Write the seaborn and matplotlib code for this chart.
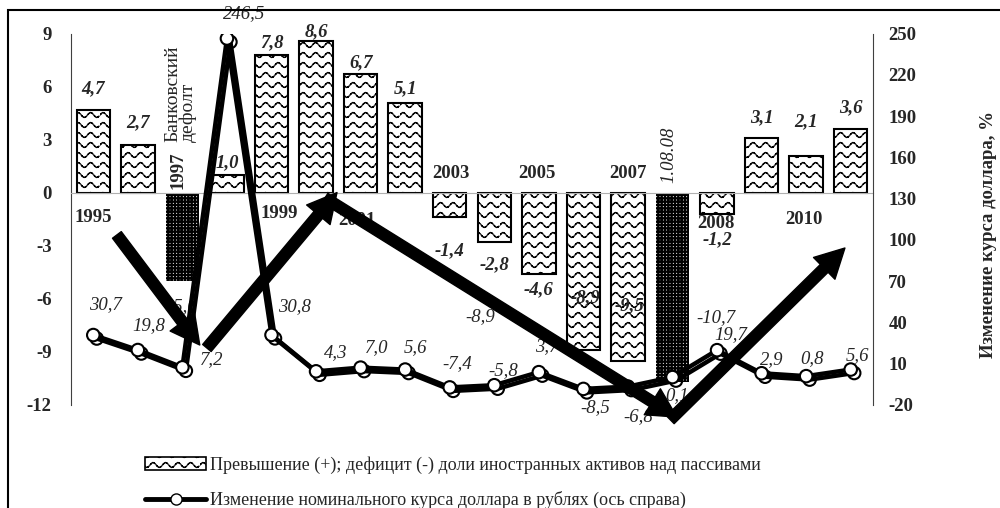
import numpy as np
import matplotlib
matplotlib.use('Agg')
import matplotlib.pyplot as plt
import matplotlib.hatch as mhatch
import matplotlib.patheffects as pe
from matplotlib.path import Path
from matplotlib.patches import Patch, Rectangle
from matplotlib.lines import Line2D
import seaborn as sns

# data
periods = ['1995', '1996', '1997', '1998', '1999', '2000', '2001', '2002', '2003',
           '2004', '2005', '2006', '2007', '1.08.08', '2008', '2009', '2010', '2011']
asset_gap = [4.7, 2.7, -5.0, 1.0, 7.8, 8.6, 6.7, 5.1, -1.4,
             -2.8, -4.6, -8.9, -9.5, -10.7, -1.2, 3.1, 2.1, 3.6]
usd_change = [30.7, 19.8, 7.2, 246.5, 30.8, 4.3, 7.0, 5.6, -7.4,
              -5.8, 3.7, -8.5, -6.8, 0.1, 19.7, 2.9, 0.8, 5.6]
crisis_periods = ['1997', '1.08.08']
left_ticks = [9, 6, 3, 0, -3, -6, -9, -12]
right_ticks = [250, 220, 190, 160, 130, 100, 70, 40, 10, -20]

legend_labels = ['Превышение (+); дефицит (-) доли иностранных активов над пассивами',
                 'Изменение номинального курса доллара в рублях (ось справа)']
right_label = 'Изменение курса доллара, %'

# label placement (pixel offsets from the bar end / line point)
bar_off = [(0, 21), (0, 22), (0, -26), (0, 12), (0, 12), (0, 9), (0, 12), (0, 14), (0, -33),
           (0, -23), (0, -16), (2, 52), (2, 55), (43, 64), (0, -26), (0, 20), (0, 34), (0, 21)]
line_off = [(12, 30), (11, 24), (29, 8), (17, 25), (23, 28), (20, 19), (16, 20), (10, 22), (7, 24),
            (9, 15), (8, 26), (12, -19), (10, -30), (5, -18), (14, 16), (10, 14), (6, 18), (7, 14)]
year_marks = [('1995', 0.0, -1.43, 0), ('1997', 1.9, 1.28, 90), ('1999', 4.17, -1.15, 0),
              ('2001', 5.92, -1.55, 0), ('2003', 8.03, 1.11, 0), ('2005', 9.96, 1.11, 0),
              ('2007', 12.0, 1.11, 0), ('2008', 13.98, -1.73, 0), ('2010', 15.95, -1.49, 0)]
arrows = [((0.53, -2.39), (2.39, -8.62)), ((2.55, -8.79), (5.47, 0.01)),
          ((5.20, -0.3), (13.1, -12.7)), ((12.95, -12.85), (16.87, -3.13))]

FS = 13.5


# wavy dotted hatch for '-' ; '+' keeps the plain grid
class WaveHatch(mhatch.HatchPatternBase):
    def __init__(self, hatch, density):
        self.rows = hatch.count('-') * 5
        self.t = np.linspace(0, 1, 8 * 12 + 1)
        self.idx = np.nonzero(np.arange(len(self.t) - 1) % 3 != 2)[0]
        self.num_vertices = self.rows * len(self.idx) * 2

    def set_vertices_and_codes(self, vertices, codes):
        if not self.rows:
            return
        amp = 0.24 / self.rows
        x0, x1 = self.t[self.idx], self.t[self.idx + 1]
        w0, w1 = amp * np.sin(16 * np.pi * x0), amp * np.sin(16 * np.pi * x1)
        n = len(self.idx)
        for r in range(self.rows):
            y = (r + 0.5) / self.rows
            blk = vertices[r * 2 * n:(r + 1) * 2 * n]
            blk[0::2, 0], blk[0::2, 1] = x0, y + w0
            blk[1::2, 0], blk[1::2, 1] = x1, y + w1
        codes[0::2] = Path.MOVETO
        codes[1::2] = Path.LINETO


class GridHorizontal(mhatch.HorizontalHatch):
    def __init__(self, hatch, density):
        self.num_lines = int(hatch.count('+') * density)
        self.num_vertices = self.num_lines * 2


mhatch._hatch_types[0] = GridHorizontal
mhatch._hatch_types.append(WaveHatch)

sns.set_style('white')
plt.rcParams['font.family'] = ['Liberation Serif', 'DejaVu Serif']
plt.rcParams['hatch.linewidth'] = 1.0
plt.rcParams['hatch.color'] = 'black'

fig = plt.figure(figsize=(10, 5.08), dpi=100)
ax = fig.add_axes([0.071, 0.2033, 0.802, 0.7304])

sns.barplot(x=periods, y=asset_gap, ax=ax, color='white', edgecolor='black',
            linewidth=1.5, width=0.75, errorbar=None, saturation=1)
for p, name in zip(ax.patches, periods):
    if name in crisis_periods:
        p.set_hatch('+++++')
        p.set_linewidth(0)
        if hasattr(p, 'set_hatch_linewidth'):
            p.set_hatch_linewidth(1.6)
    else:
        p.set_hatch('--')

ax.set_xlim(-0.5, len(periods) - 0.5)
ax.set_ylim(-12, 9)
ax.set_yticks(left_ticks)
ax.set_yticklabels([str(t) for t in left_ticks], fontsize=FS, fontweight='bold')
ax.set_xticks(np.arange(len(periods) + 1) - 0.5)
ax.set_xticklabels([])
ax.set_xlabel('')
ax.tick_params(axis='y', length=0, pad=14)
ax.tick_params(axis='x', direction='inout', length=7, color='#c8c8c8', width=1)
ax.spines['bottom'].set_position(('data', 0))
ax.spines['bottom'].set_color('#b0b0b0')
ax.spines['left'].set_color('#404040')
ax.spines['top'].set_visible(False)
ax.spines['right'].set_visible(False)

for i, v in enumerate(asset_gap):
    txt = f'{v:.1f}'.replace('.', ',')
    weight = 'normal' if i in (2, 13) else 'bold'
    ax.annotate(txt, (i, v), xytext=bar_off[i], textcoords='offset pixels',
                ha='center', va='center', fontsize=FS, fontstyle='italic',
                fontweight=weight)
ax.text(8.68, -7.03, '-8,9', ha='center', va='center', fontsize=FS, fontstyle='italic')

for txt, x, y, rot in year_marks:
    ax.text(x, y, txt, ha='center', va='center', rotation=rot, fontsize=FS,
            fontweight='bold')
ax.text(12.92, 2.13, '1.08.08', ha='center', va='center', rotation=90,
        fontsize=FS, fontstyle='italic')
ax.text(1.95, 5.58, 'Банковский\nдефолт', ha='center', va='center', rotation=90,
        fontsize=14, multialignment='left', linespacing=0.85)

# right axis: dollar rate change
ax2 = ax.twinx()
sns.lineplot(x=np.arange(len(periods)), y=usd_change, ax=ax2, color='black',
             linewidth=3.2, marker='o', markersize=9, markerfacecolor='white',
             markeredgecolor='black', markeredgewidth=1.5)
ax2.lines[0].set_path_effects([pe.SimpleLineShadow(offset=(2.5, -2.5), shadow_color='black',
                                                   alpha=1.0, rho=1), pe.Normal()])
ax2.set_ylim(-20, 250)
ax2.set_yticks(right_ticks)
ax2.set_yticklabels([str(t) for t in right_ticks], fontsize=FS, fontweight='bold')
ax2.tick_params(axis='y', length=0, pad=11)
ax2.spines['right'].set_color('#404040')
for s in ('top', 'left', 'bottom'):
    ax2.spines[s].set_visible(False)
ax2.set_ylabel(right_label, fontsize=13.5, fontweight='bold')
ax2.yaxis.set_label_coords(1.133, 0.46)

for i, v in enumerate(usd_change):
    ax2.annotate(f'{v:.1f}'.replace('.', ','), (i, v), xytext=line_off[i],
                 textcoords='offset pixels', ha='center', va='center',
                 fontsize=FS, fontstyle='italic')

for tail, tip in arrows:
    ax2.annotate('', xy=tip, xycoords=ax.transData, xytext=tail, textcoords=ax.transData,
                 annotation_clip=False,
                 arrowprops=dict(arrowstyle='simple,head_length=0.95,head_width=1.0,tail_width=0.36',
                                 mutation_scale=22, color='black', shrinkA=0, shrinkB=0))

handles = [Patch(facecolor='white', edgecolor='black', hatch='--', linewidth=1.2),
           Line2D([], [], color='black', lw=3.5, marker='o', markersize=8,
                  markerfacecolor='white', markeredgecolor='black')]
fig.legend(handles, legend_labels, loc='upper left', bbox_to_anchor=(0.145, 0.102),
           frameon=False, handlelength=3.4, handleheight=0.7, handletextpad=0.2,
           labelspacing=0.95, fontsize=13, borderaxespad=0, borderpad=0)

fig.patches.append(Rectangle((0.008, -0.05), 1.1, 1.03, transform=fig.transFigure,
                             fill=False, edgecolor='black', linewidth=1.5))

fig.savefig('out.png', dpi=100)
